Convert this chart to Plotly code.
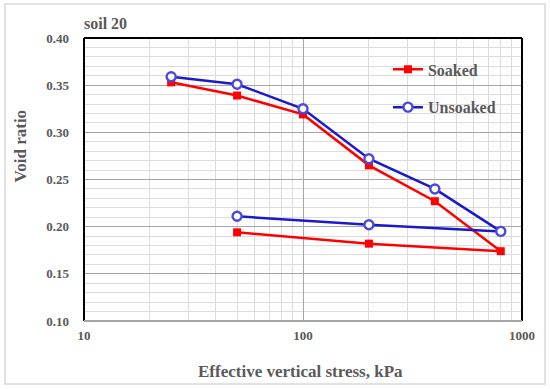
import plotly.graph_objects as go

stress = [25, 50, 100, 200, 400, 800, 200, 50]
soaked = [0.353, 0.339, 0.319, 0.265, 0.227, 0.174, 0.182, 0.194]
unsoaked = [0.359, 0.351, 0.325, 0.272, 0.240, 0.195, 0.202, 0.211]
y_ticks = [0.10, 0.15, 0.20, 0.25, 0.30, 0.35, 0.40]
x_ticks = [10, 100, 1000]

FONT = "Liberation Serif, Times New Roman, serif"
GRAY = "#595959"

fig = go.Figure()
fig.add_trace(go.Scatter(
    x=stress, y=soaked, name="<b>Soaked</b>", mode="lines+markers",
    legendgroup="a",
    line=dict(color="#ff0000", width=2.5),
    marker=dict(symbol="square", size=8, color="#ff0000"),
))
fig.add_trace(go.Scatter(
    x=stress, y=unsoaked, name="<b>Unsoaked</b>", mode="lines+markers",
    legendgroup="b",
    line=dict(color="#1a1acc", width=2.5),
    marker=dict(symbol="circle", size=9, color="white",
                line=dict(color="#4a4ae0", width=2.4)),
))

fig.update_layout(
    width=550, height=389,
    margin=dict(l=84, r=28, t=38, b=68),
    paper_bgcolor="white", plot_bgcolor="white",
    font=dict(family=FONT, color=GRAY),
    showlegend=True,
    legend=dict(x=0.694, y=0.949, xanchor="left", yanchor="top",
                bgcolor="rgba(0,0,0,0)", tracegroupgap=14,
                font=dict(family=FONT, size=16, color=GRAY),
                itemwidth=30),
    xaxis=dict(type="log", range=[1, 3], tickvals=x_ticks,
               ticktext=[f"<b>{v}</b>" for v in x_ticks],
               showgrid=True, gridcolor="#a6a6a6", gridwidth=1.2,
               minor=dict(dtick="D1", showgrid=True, gridcolor="#dcdcdc", gridwidth=1.2),
               showline=False, zeroline=False, ticks="",
               tickfont=dict(family=FONT, size=13, color=GRAY),
               ticklabelstandoff=5),
    yaxis=dict(range=[0.10, 0.40], tickvals=y_ticks,
               ticktext=[f"<b>{v:.2f}</b>" for v in y_ticks],
               showgrid=True, gridcolor="#a6a6a6", gridwidth=1.2,
               minor=dict(dtick=0.01, showgrid=True, gridcolor="#dcdcdc", gridwidth=1.2),
               showline=False, zeroline=False, ticks="",
               tickfont=dict(family=FONT, size=13, color=GRAY),
               ticklabelstandoff=14),
    shapes=[
        dict(type="rect", xref="paper", yref="paper", x0=-0.1804, x1=1.0525,
             y0=-0.2226, y1=1.1201, line=dict(color="#d9d9d9", width=1.5), layer="below"),
        dict(type="line", xref="paper", yref="paper", x0=0, x1=1, y0=1, y1=1,
             line=dict(color="black", width=2)),
        dict(type="line", xref="paper", yref="paper", x0=0, x1=0, y0=0, y1=1,
             line=dict(color="black", width=2)),
        dict(type="line", xref="paper", yref="paper", x0=1, x1=1, y0=0, y1=1,
             line=dict(color="black", width=2)),
        dict(type="line", xref="paper", yref="paper", x0=0, x1=1, y0=0, y1=0,
             line=dict(color="#a6a6a6", width=2)),
    ],
    annotations=[
        dict(text="<b>soil 20</b>", xref="paper", yref="paper", x=-0.005, y=1.053,
             xanchor="left", yanchor="middle", showarrow=False,
             font=dict(family=FONT, size=16, color=GRAY)),
        dict(text="<b>Void ratio</b>", xref="paper", yref="paper", x=-0.144, y=0.62,
             xanchor="center", yanchor="middle", showarrow=False, textangle=-90,
             font=dict(family=FONT, size=17, color=GRAY)),
        dict(text="<b>Effective vertical stress, kPa</b>", xref="paper", yref="paper",
             x=0.494, y=-0.18, xanchor="center", yanchor="middle", showarrow=False,
             font=dict(family=FONT, size=17, color=GRAY)),
    ],
)

fig.write_html("out.html", config={"displayModeBar": False},
               post_script="document.body.style.margin='0';")
